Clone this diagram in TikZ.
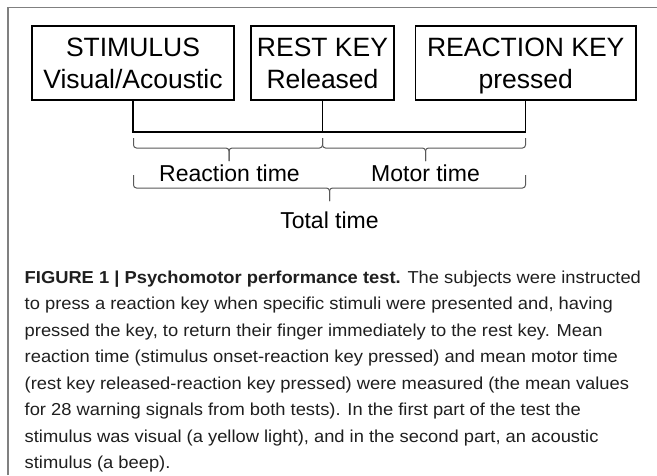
\documentclass[tikz,border=0pt]{standalone}
\usepackage{fontspec}
\setmainfont{Liberation Sans}
\newfontfamily\capfont[FakeStretch=1.06]{Liberation Sans}
\begin{document}
\begin{tikzpicture}[x=1pt,y=-1pt,
  keybox/.style={draw=black, line width=1.2pt, minimum height=74pt, inner sep=0pt},
  boxtext/.style={font=\fontsize{26.5}{31}\selectfont, anchor=base, inner sep=0pt},
  lbl/.style={font=\fontsize{23}{27}\selectfont, anchor=base, inner sep=0pt},
  conn/.style={line width=1.2pt, draw=black},
  brc/.style={line width=1pt, draw=black!65, rounded corners=3pt},
  captext/.style={font=\capfont\fontsize{17.3}{26.5}\selectfont, anchor=base west, inner sep=0pt, text=black!88},
  outerframe/.style={draw=black!50, line width=1.5pt}]
\useasboundingbox (0,0) rectangle (657,475);
\fill[white] (0,0) rectangle (657,475);
\draw[outerframe] (8,475) -- (8,7.5) -- (657,7.5);

% boxes
\node[keybox, minimum width=202pt] (stim) at (133,63) {};
\node[keybox, minimum width=143pt] (rest) at (322.5,63) {};
\node[keybox, minimum width=220.5pt] (react) at (525.75,63) {};

\node[boxtext] (stim1) at (133,56.7) {STIMULUS};
\node[boxtext] (stim2) at (133,88) {Visual/Acoustic};
\node[boxtext] (rest1) at (322.5,56.7) {REST KEY};
\node[boxtext] (rest2) at (322.5,88) {Released};
\node[boxtext] (react1) at (525.75,56.7) {REACTION KEY};
\node[boxtext] (react2) at (525.75,88) {pressed};

% connectors
\coordinate (hl) at (0,132);
\draw[conn] (stim.south) -- (stim.south |- hl) -- (react.south |- hl) -- (react.south);
\draw[conn] (rest.south) -- (rest.south |- hl);

% braces
\draw[brc] (133.5,138) -- (133.5,148) -- (229,148) -- (229,161);
\draw[brc] (322.5,138) -- (322.5,148) -- (229,148) -- (229,161);
\draw[brc] (322.5,138) -- (322.5,148) -- (425.5,148) -- (425.5,161);
\draw[brc] (525.5,138) -- (525.5,148) -- (425.5,148) -- (425.5,161);
\draw[brc] (133.5,175) -- (133.5,188) -- (329.5,188) -- (329.5,201);
\draw[brc] (525.5,175) -- (525.5,188) -- (329.5,188) -- (329.5,201);

% labels
\node[lbl] (rt) at (229.5,181) {Reaction time};
\node[lbl] (mt) at (425.5,181) {Motor time};
\node[lbl] (tt) at (329.5,228) {Total time};

% caption
\node[captext] (c1) at (24.5,283) {\textbf{FIGURE 1 | Psychomotor performance test.} The subjects were instructed};
\node[captext] (c2) at (24.5,309.5) {to press a reaction key when specific stimuli were presented and, having};
\node[captext] (c3) at (24.5,336) {pressed the key, to return their finger immediately to the rest key. Mean};
\node[captext] (c4) at (24.5,362.5) {reaction time (stimulus onset-reaction key pressed) and mean motor time};
\node[captext] (c5) at (24.5,389) {(rest key released-reaction key pressed) were measured (the mean values};
\node[captext] (c6) at (24.5,415.5) {for 28 warning signals from both tests). In the first part of the test the};
\node[captext] (c7) at (24.5,442) {stimulus was visual (a yellow light), and in the second part, an acoustic};
\node[captext] (c8) at (24.5,468.5) {stimulus (a beep).};
\end{tikzpicture}
\end{document}
